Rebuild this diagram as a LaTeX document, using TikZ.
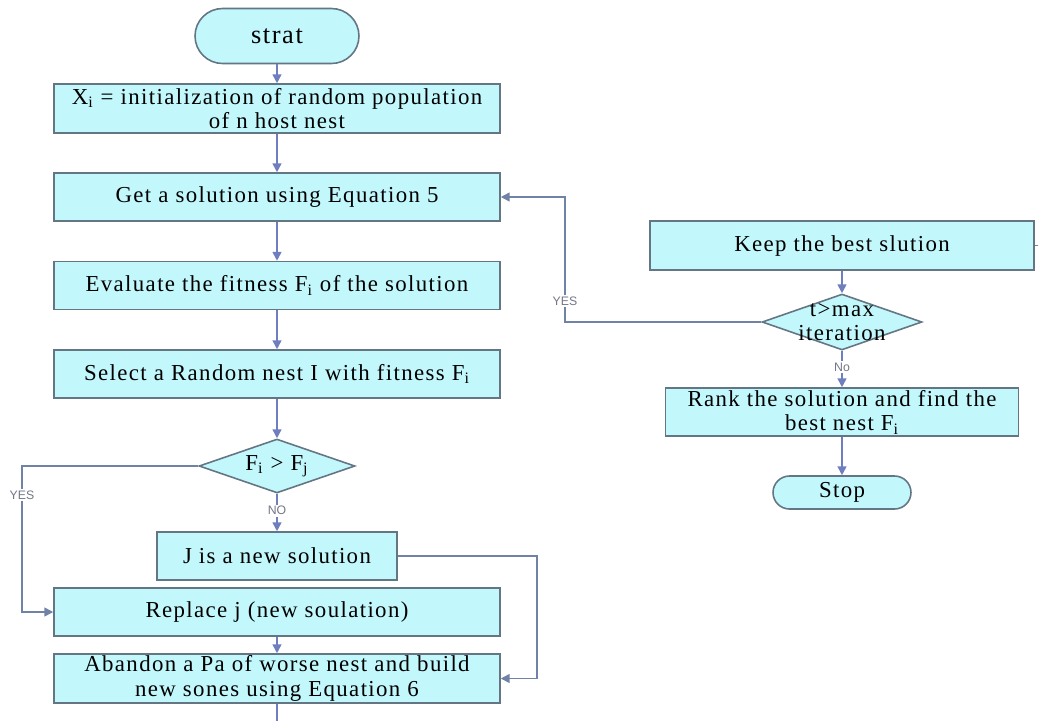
\documentclass[tikz,border=0pt]{standalone}
\usepackage{fontspec}
\setmainfont{Liberation Serif}
\newfontfamily\boxfont[LetterSpace=6]{Liberation Serif}
\newfontfamily\lblfont{Liberation Sans}
\usetikzlibrary{arrows.meta,shapes.geometric}
\definecolor{fillc}{RGB}{194,247,252}
\definecolor{boxc}{RGB}{100,118,132}
\definecolor{arrc}{RGB}{110,126,190}
\definecolor{loopc}{RGB}{112,130,165}
\definecolor{lblc}{RGB}{115,118,135}
\tikzset{
  x=0.02cm, y=-0.02cm,
  box/.style={draw=boxc, fill=fillc, line width=0.9pt, align=center, inner sep=0pt,
              font=\boxfont\fontsize{13}{14}\selectfont, minimum width=8.92cm, minimum height=0.96cm},
  term/.style={box, rounded corners=#1},
  dec/.style={draw=boxc, fill=fillc, line width=0.9pt, diamond, align=center,
              inner xsep=-22pt, inner ysep=-12pt, font=\boxfont\fontsize{13}{13.5}\selectfont},
  arr/.style={draw=arrc, line width=0.9pt, -{Triangle[length=5pt,width=5pt]}},
  loop/.style={draw=loopc, line width=0.9pt, -{Triangle[length=5pt,width=5pt]}},
  plain/.style={draw=arrc, line width=0.9pt},
  plainloop/.style={draw=loopc, line width=0.9pt},
  lbl/.style={font=\lblfont\fontsize{7}{8}\selectfont, text=lblc, fill=white, inner sep=1pt}
}
\begin{document}
\begin{tikzpicture}
\useasboundingbox (0,0) rectangle (1038,721);
% left column
\node[term=0.55cm, minimum width=3.28cm, minimum height=1.1cm, font=\boxfont\fontsize{15}{18}\selectfont] (strat) at (277,36) {strat};
\node[box, minimum height=0.98cm] (init) at (277,108.5) {X\textsubscript{i} = initialization of random population\\of n host nest};
\node[box] (get) at (277,197) {Get a solution using Equation 5};
\node[box] (eval) at (277,285.5) {Evaluate the fitness F\textsubscript{i} of the solution};
\node[box] (sel) at (277,374) {Select a Random nest I with fitness F\textsubscript{i}};
\node[dec, minimum width=3.12cm, minimum height=1.08cm] (d1) at (277,466) {F\textsubscript{i} > F\textsubscript{j}};
\node[box, minimum width=4.8cm] (jnew) at (277,556) {J is a new solution};
\node[box] (repl) at (277,612) {Replace j (new soulation)};
\node[box, minimum height=0.98cm] (aband) at (277,678.5) {Abandon a Pa of worse nest and build\\new sones using Equation 6};
% right column
\node[box, minimum width=7.68cm, minimum height=0.98cm] (keep) at (842,245.5) {Keep the best slution};
\node[dec, minimum width=3.2cm, minimum height=1.12cm] (d2) at (842,322) {t>max\\iteration};
\node[box, minimum width=7.06cm] (rank) at (842,412) {Rank the solution and find the\\best nest F\textsubscript{i}};
\node[term=0.33cm, minimum width=2.76cm, minimum height=0.66cm] (stop) at (842,492.5) {Stop};
% coordinates
\coordinate (yl1) at (22,466);
\coordinate (jr) at (537,556);
\coordinate (yl2) at (565,322);
\coordinate (kr) at (1038,245.5);
\coordinate (bot) at (277,721);
% connectors
\draw[arr] (strat) -- (init);
\draw[arr] (init) -- (get);
\draw[arr] (get) -- (eval);
\draw[arr] (eval) -- (sel);
\draw[arr] (sel) -- (d1);
\draw[arr] (d1) -- node[lbl, pos=0.45] (no1) {NO} (jnew);
\draw[arr] (repl) -- (aband);
\draw[plain] (aband) -- (bot);
\draw[loop] (d1.west) -- (yl1) -- node[lbl, pos=0.2] (yes1) {YES} (yl1 |- repl.west) -- (repl.west);
\draw[loop] (jnew.east) -- (jr) |- (aband.east);
\draw[arr] (keep) -- (d2);
\draw[arr] (d2) -- node[lbl, pos=0.45] (no2) {No} (rank);
\draw[arr] (rank) -- (stop);
\draw[loop] (d2.west) -- node[lbl, pos=1, yshift=12pt] (yes2) {YES} (yl2) |- (get.east);
\draw[plainloop] (keep.east) -- (kr);
\end{tikzpicture}
\end{document}
